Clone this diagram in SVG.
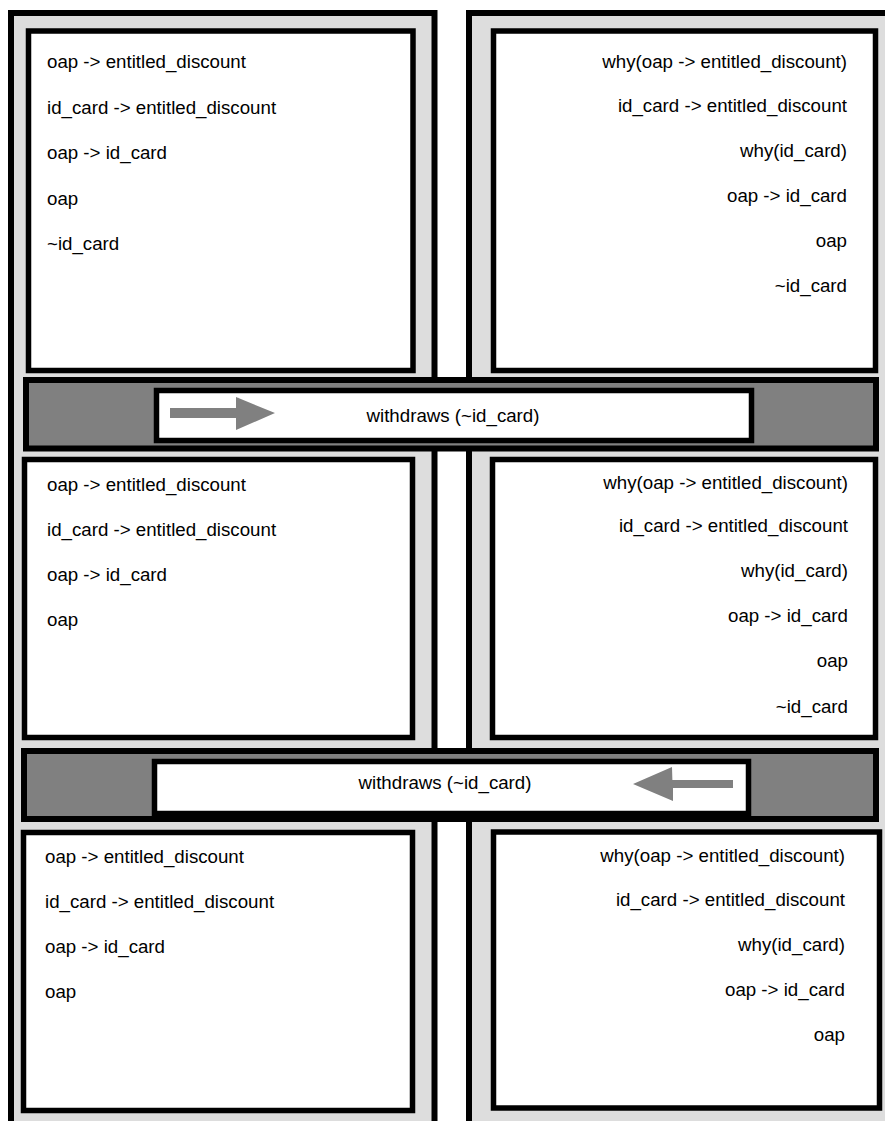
<svg xmlns="http://www.w3.org/2000/svg" width="885" height="1121" viewBox="0 0 885 1121">
<style>
.col{fill:#dddddd;stroke:#000;stroke-width:6}
.box{fill:#fff;stroke:#000;stroke-width:5.5}
.band{fill:#808080;stroke:#000;stroke-width:6}
.lbl{fill:#fff;stroke:#000;stroke-width:5.5}
text{font-family:"Liberation Sans",Arial,sans-serif;font-size:18.7px;fill:#000}
.r{text-anchor:end}
.c{text-anchor:middle}
.arr{fill:#808080}
</style>
<rect width="885" height="1121" fill="#fff"/>
<g id="column-left"><rect class="col" x="11" y="13" width="423.5" height="1120"/></g>
<g id="column-right"><rect class="col" x="469" y="13" width="430" height="1120"/></g>

<g id="left-1">
<rect class="box" x="28.5" y="31" width="384.5" height="339.5"/>
<text x="47" y="68">oap -&gt; entitled_discount</text>
<text x="47" y="113.5">id_card -&gt; entitled_discount</text>
<text x="47" y="159">oap -&gt; id_card</text>
<text x="47" y="204.5">oap</text>
<text x="47" y="250">~id_card</text>
</g>
<g id="right-1">
<rect class="box" x="493.5" y="31" width="382" height="339.5"/>
<text class="r" x="847" y="68">why(oap -&gt; entitled_discount)</text>
<text class="r" x="847" y="112">id_card -&gt; entitled_discount</text>
<text class="r" x="847" y="157">why(id_card)</text>
<text class="r" x="847" y="202">oap -&gt; id_card</text>
<text class="r" x="847" y="247">oap</text>
<text class="r" x="847" y="292">~id_card</text>
</g>

<g id="band-1">
<rect class="band" x="26" y="380" width="850" height="68.5"/>
<rect class="lbl" x="156.5" y="390.5" width="595" height="50"/>
<text class="c" x="453" y="422">withdraws (~id_card)</text>
</g>

<g id="left-2">
<rect class="box" x="24.5" y="459.5" width="388" height="278"/>
<text x="47" y="491">oap -&gt; entitled_discount</text>
<text x="47" y="536">id_card -&gt; entitled_discount</text>
<text x="47" y="581">oap -&gt; id_card</text>
<text x="47" y="626">oap</text>
</g>
<g id="right-2">
<rect class="box" x="492.5" y="459.5" width="383" height="278"/>
<text class="r" x="848" y="489">why(oap -&gt; entitled_discount)</text>
<text class="r" x="848" y="532">id_card -&gt; entitled_discount</text>
<text class="r" x="848" y="577">why(id_card)</text>
<text class="r" x="848" y="622">oap -&gt; id_card</text>
<text class="r" x="848" y="667">oap</text>
<text class="r" x="848" y="713">~id_card</text>
</g>

<g id="band-2">
<rect class="band" x="24" y="751" width="852" height="68"/>
<rect class="lbl" x="154.5" y="761.5" width="594" height="52"/>
<text class="c" x="445" y="789">withdraws (~id_card)</text>
</g>

<g id="left-3">
<rect class="box" x="23.5" y="832.5" width="389" height="278"/>
<text x="45" y="863">oap -&gt; entitled_discount</text>
<text x="45" y="908">id_card -&gt; entitled_discount</text>
<text x="45" y="953">oap -&gt; id_card</text>
<text x="45" y="998">oap</text>
</g>
<g id="right-3">
<rect class="box" x="493.5" y="832" width="386" height="276"/>
<text class="r" x="845" y="862">why(oap -&gt; entitled_discount)</text>
<text class="r" x="845" y="906">id_card -&gt; entitled_discount</text>
<text class="r" x="845" y="951">why(id_card)</text>
<text class="r" x="845" y="996">oap -&gt; id_card</text>
<text class="r" x="845" y="1041">oap</text>
</g>

<g id="connectors">
<path class="arr" d="M170,408 H238 V397 Q242,413 236,430 V418 H170 Z M236,397 L275,413 L236,430 Z"/>
<path class="arr" d="M733,780 H672 V767 Q668,784 673,801 V788 H733 Z M672,767 L633,784 L673,801 Z"/>
</g>
</svg>
